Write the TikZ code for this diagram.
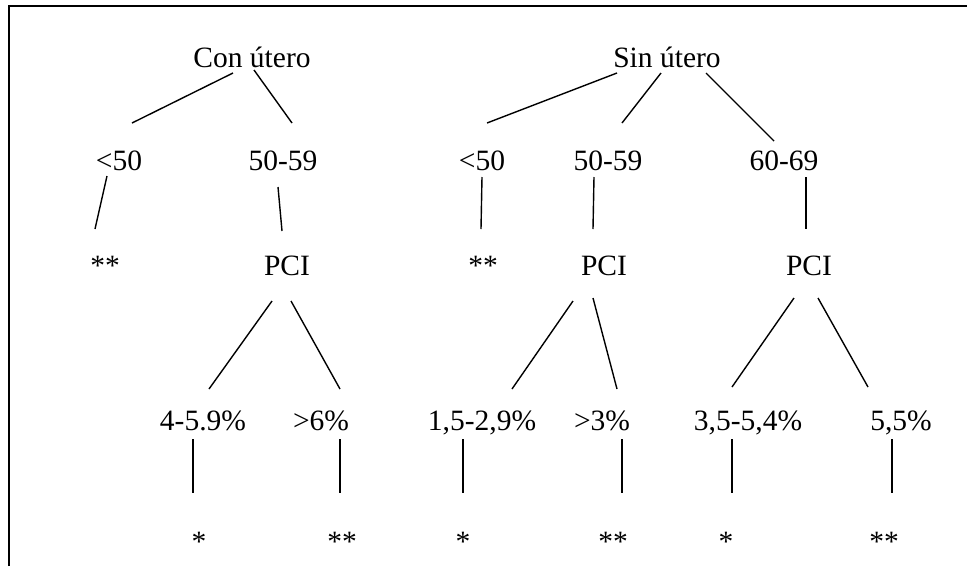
\documentclass[tikz,border=0pt]{standalone}
\usepackage{fontspec}
\setmainfont{Liberation Serif}
\begin{document}
\begin{tikzpicture}[x=1pt,y=-1pt,
  lbl/.style={anchor=base,inner sep=0pt,font=\fontsize{29.5}{34}\selectfont},
  edge/.style={line width=1.4pt},
  frame/.style={line width=2.2pt}]
\useasboundingbox (0,0) rectangle (967,566);
\draw[frame] (9,566) -- (9,6) -- (967,6);
% level 1
\node[lbl] (con) at (252,67) {Con útero};
\node[lbl] (sin) at (667,67) {Sin útero};
% level 2
\node[lbl] (a1) at (119,170) {<50};
\node[lbl] (a2) at (283,170) {50-59};
\node[lbl] (b1) at (482,170) {<50};
\node[lbl] (b2) at (608,170) {50-59};
\node[lbl] (b3) at (784,170) {60-69};
% level 3
\node[lbl] (a1s) at (105,275) {**};
\node[lbl] (a2p) at (287,275) {PCI};
\node[lbl] (b1s) at (483,275) {**};
\node[lbl] (b2p) at (604,275) {PCI};
\node[lbl] (b3p) at (809,275) {PCI};
% level 4
\node[lbl] (a21) at (203,430) {4-5.9\%};
\node[lbl] (a22) at (321,430) {>6\%};
\node[lbl] (b21) at (482,430) {1,5-2,9\%};
\node[lbl] (b22) at (602,430) {>3\%};
\node[lbl] (b31) at (748,430) {3,5-5,4\%};
\node[lbl] (b32) at (901,430) {5,5\%};
% level 5
\node[lbl] (a21s) at (199,551) {*};
\node[lbl] (a22s) at (342,551) {**};
\node[lbl] (b21s) at (463,551) {*};
\node[lbl] (b22s) at (613,551) {**};
\node[lbl] (b31s) at (726,551) {*};
\node[lbl] (b32s) at (884,551) {**};
% connectors
\draw[edge] ([shift={(-19,6)}]con.base) -- ([shift={(13,-47)}]a1.base);
\draw[edge] ([shift={(2,3)}]con.base) -- ([shift={(9,-47)}]a2.base);
\draw[edge] ([shift={(-50,6)}]sin.base) -- ([shift={(5,-47)}]b1.base);
\draw[edge] ([shift={(-6,6)}]sin.base) -- ([shift={(14,-47)}]b2.base);
\draw[edge] ([shift={(39,6)}]sin.base) -- ([shift={(-10,-29)}]b3.base);
\draw[edge] ([shift={(-12,6)}]a1.base) -- ([shift={(-10,-46)}]a1s.base);
\draw[edge] ([shift={(-5,17)}]a2.base) -- ([shift={(-5,-44)}]a2p.base);
\draw[edge] ([shift={(0,7)}]b1.base) -- ([shift={(-2,-46)}]b1s.base);
\draw[edge] ([shift={(-14,7)}]b2.base) -- ([shift={(-11,-46)}]b2p.base);
\draw[edge] ([shift={(22,7)}]b3.base) -- ([shift={(-3,-46)}]b3p.base);
\draw[edge] ([shift={(-15,26)}]a2p.base) -- ([shift={(6,-41)}]a21.base);
\draw[edge] ([shift={(4,26)}]a2p.base) -- ([shift={(19,-41)}]a22.base);
\draw[edge] ([shift={(-31,26)}]b2p.base) -- ([shift={(30,-41)}]b21.base);
\draw[edge] ([shift={(-11,23)}]b2p.base) -- ([shift={(15,-41)}]b22.base);
\draw[edge] ([shift={(-15,23)}]b3p.base) -- ([shift={(-16,-43)}]b31.base);
\draw[edge] ([shift={(9,23)}]b3p.base) -- ([shift={(-33,-43)}]b32.base);
\draw[edge] ([shift={(-10,9)}]a21.base) -- ([shift={(-6,-58)}]a21s.base);
\draw[edge] ([shift={(19,9)}]a22.base) -- ([shift={(-2,-58)}]a22s.base);
\draw[edge] ([shift={(-19,9)}]b21.base) -- ([shift={(0,-58)}]b21s.base);
\draw[edge] ([shift={(20,9)}]b22.base) -- ([shift={(9,-58)}]b22s.base);
\draw[edge] ([shift={(-16,9)}]b31.base) -- ([shift={(6,-58)}]b31s.base);
\draw[edge] ([shift={(-9,9)}]b32.base) -- ([shift={(8,-58)}]b32s.base);
\end{tikzpicture}
\end{document}
